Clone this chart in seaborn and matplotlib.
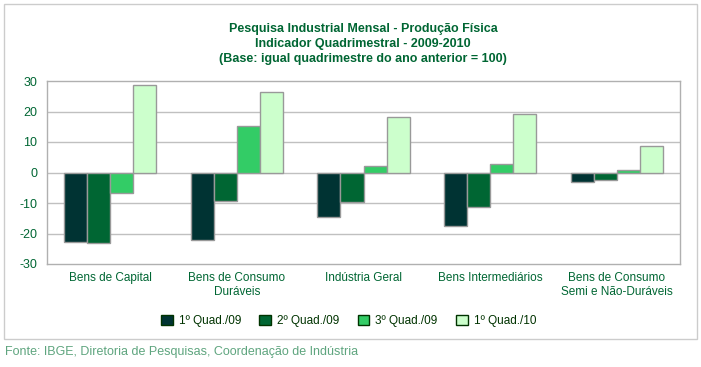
import pandas as pd
import numpy as np
import matplotlib
matplotlib.use("Agg")
import matplotlib.pyplot as plt
from matplotlib.patches import Rectangle
import seaborn as sns

# ----------------------------------------------------------------------
# DATA
# ----------------------------------------------------------------------
categories = [
    "Bens de Capital",
    "Bens de Consumo\nDuráveis",
    "Indústria Geral",
    "Bens Intermediários",
    "Bens de Consumo\nSemi e Não-Duráveis",
]
periods = ["1º Quad./09", "2º Quad./09", "3º Quad./09", "1º Quad./10"]

q1_09 = [-22.8, -22.1, -14.6, -17.5, -3.0]
q2_09 = [-23.0, -9.3, -9.7, -11.3, -2.4]
q3_09 = [-6.7, 15.2, 2.2, 2.8, 0.8]
q1_10 = [28.7, 26.4, 18.2, 19.2, 8.7]

colors = ["#003333", "#006633", "#33CC66", "#CCFFCC"]
text_green = "#006633"

df = pd.DataFrame({
    "categoria": categories * 4,
    "periodo": np.repeat(periods, len(categories)),
    "valor": q1_09 + q2_09 + q3_09 + q1_10,
})

# ----------------------------------------------------------------------
# PLOT
# ----------------------------------------------------------------------
sns.set_style("white")
plt.rcParams["font.family"] = ["Liberation Sans", "DejaVu Sans"]
plt.rcParams["axes.unicode_minus"] = False

fig = plt.figure(figsize=(7.01, 3.67), dpi=100)
ax = fig.add_axes([47 / 701, 103 / 367, 633 / 701, 183 / 367])

sns.barplot(
    data=df, x="categoria", y="valor", hue="periodo",
    order=categories, hue_order=periods, palette=colors,
    width=0.727, edgecolor="#999999", linewidth=1.0,
    saturation=1, errorbar=None, ax=ax, zorder=3,
)

ax.set_ylim(-30, 30)
ax.set_yticks(range(-30, 31, 10))
ax.set_xlim(-0.5, len(categories) - 0.5)
for v in range(-20, 30, 10):
    ax.axhline(v, color="#C0C0C0", lw=1, zorder=1)
ax.set_xlabel("")
ax.set_ylabel("")
ax.tick_params(axis="both", length=0, labelsize=8.5, labelcolor=text_green)
ax.tick_params(axis="y", labelsize=9, pad=7)
ax.tick_params(axis="x", pad=6)
for sp in ax.spines.values():
    sp.set_color("#B0B0B0")
    sp.set_linewidth(1)

leg = ax.legend(
    loc="center", bbox_to_anchor=(0.5 - 15 / 633, -0.31), ncol=4, frameon=False,
    fontsize=8.5, handlelength=1.0, handleheight=1.0, columnspacing=1.55,
    handletextpad=0.5,
)
for h in leg.legend_handles:
    h.set_edgecolor("#003300")
for t in leg.get_texts():
    t.set_color("#003300")

fig.text(363 / 701, 1 - 23 / 367,
         "Pesquisa Industrial Mensal - Produção Física\n"
         "Indicador Quadrimestral - 2009-2010\n"
         "(Base: igual quadrimestre do ano anterior = 100)",
         ha="center", va="top", fontsize=9, fontweight="bold",
         color=text_green, linespacing=1.32,
         family=["Liberation Sans Narrow", "Liberation Sans"])

fig.patches.append(Rectangle((4 / 701, 28 / 367), 693 / 701, 335 / 367,
                             transform=fig.transFigure, fill=False,
                             edgecolor="#CCCCCC", lw=1))
fig.text(5 / 701, 1 - 352 / 367,
         "Fonte: IBGE, Diretoria de Pesquisas, Coordenação de Indústria",
         ha="left", va="center", fontsize=9, color="#5FA57F")

plt.savefig("out.png", dpi=100)
plt.close()
